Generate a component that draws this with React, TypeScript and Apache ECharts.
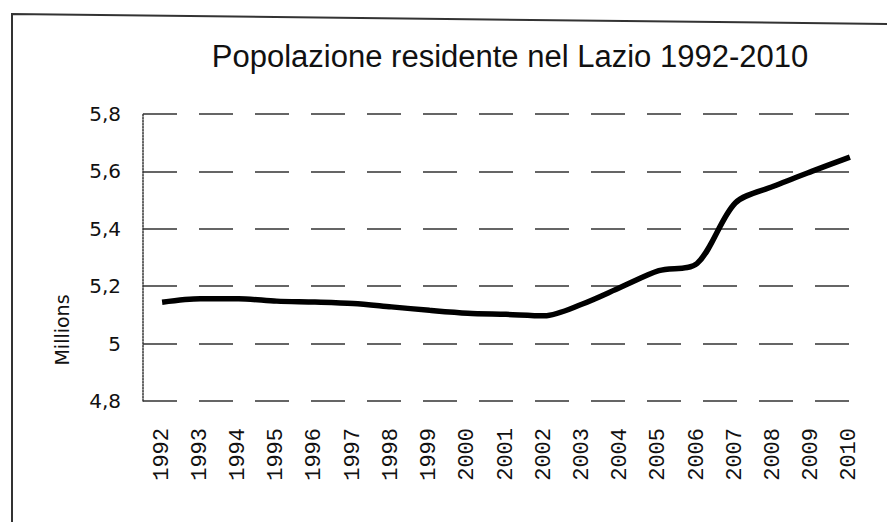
import React, { useEffect, useRef } from "react";
import * as echarts from "echarts";

const years = ["1992","1993","1994","1995","1996","1997","1998","1999","2000","2001","2002","2003","2004","2005","2006","2007","2008","2009","2010"];
const population = [5.144,5.156,5.156,5.148,5.145,5.14,5.128,5.116,5.106,5.102,5.097,5.138,5.196,5.254,5.279,5.49,5.548,5.6,5.65];
const yTicks = { min: 4.8, max: 5.8, interval: 0.2 };
const titleText = "Popolazione residente nel Lazio 1992-2010";
const yName = "Millions";

export default function App() {
  const ref = useRef<HTMLDivElement>(null);
  useEffect(() => {
    if (!ref.current) return;
    const chart = echarts.init(ref.current, null, { renderer: "svg" });
    chart.setOption({
      animation: false,
      backgroundColor: "#ffffff",
      title: {
        text: titleText,
        left: 505,
        textAlign: "center",
        top: 36,
        textStyle: { fontFamily: "Liberation Sans", fontSize: 31, fontWeight: "normal", color: "#111" },
      },
      grid: { left: 143, right: 18, top: 114, bottom: 127 },
      xAxis: {
        type: "category",
        data: years,
        boundaryGap: true,
        axisLine: { show: false },
        axisTick: { show: false },
        axisLabel: {
          rotate: 90,
          interval: 0,
          margin: 27,
          fontFamily: "Liberation Mono",
          fontSize: 22,
          color: "#111",
        },
        splitLine: { show: false },
      },
      yAxis: {
        type: "value",
        min: yTicks.min,
        max: yTicks.max,
        interval: yTicks.interval,
        axisLine: { show: true, lineStyle: { color: "#333", type: "dotted", width: 1.5 } },
        axisTick: { show: false },
        axisLabel: {
          margin: 22,
          fontFamily: "DejaVu Sans",
          fontSize: 20,
          color: "#111",
          formatter: (v: number) => (Math.abs(v - 5) < 1e-9 ? "5" : v.toFixed(1).replace(".", ",")),
        },
        splitLine: { show: true, lineStyle: { color: "#333", type: [34, 22], width: 1.5 } },
      },
      graphic: [
        {
          type: "polyline",
          shape: { points: [[12, 522], [12, 14], [887, 24]] },
          style: { stroke: "#333", lineWidth: 2, fill: "none" },
        },
        {
          type: "text",
          x: 62,
          y: 330,
          rotation: Math.PI / 2,
          style: {
            text: yName,
            fontFamily: "DejaVu Sans",
            fontSize: 19,
            fill: "#111",
            align: "center",
            verticalAlign: "middle",
          },
        },
      ],
      series: [
        {
          type: "line",
          data: population,
          smooth: 0.3,
          symbol: "none",
          lineStyle: { color: "#000", width: 5.5 },
        },
      ],
    });
    return () => chart.dispose();
  }, []);
  return <div ref={ref} style={{ width: 887, height: 528, position: "absolute", left: 0, top: 0 }} />;
}
